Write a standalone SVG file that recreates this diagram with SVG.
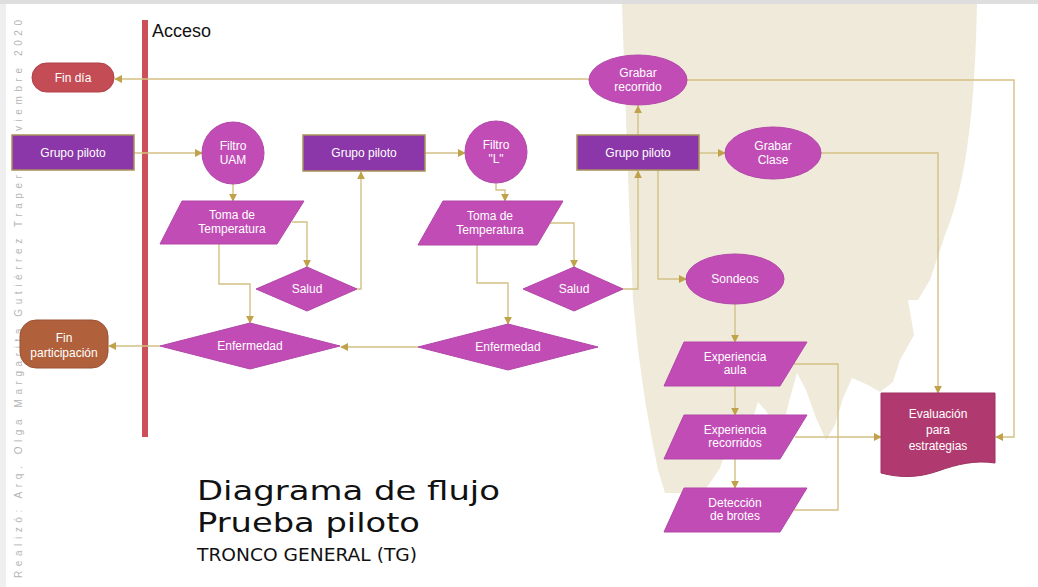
<svg xmlns="http://www.w3.org/2000/svg" width="1038" height="587" viewBox="0 0 1038 587">
<defs>
<marker id="arr" viewBox="0 0 10 10" refX="9" refY="5" markerWidth="8" markerHeight="8" markerUnits="userSpaceOnUse" orient="auto">
<path d="M0,0 L10,5 L0,10 Z" fill="#bfa24a"/>
</marker>
</defs>
<style>
.t{font-family:"Liberation Sans",Arial,sans-serif;fill:#fff;font-size:12px;text-anchor:middle}
.rect{fill:#8b36a9;stroke:#a8915a;stroke-width:1.5}
.mag{fill:#c24cb6;stroke:#b247a8;stroke-width:1}
.c{fill:none;stroke:#d3c185;stroke-width:1.4}
.ttl{font-family:"DejaVu Sans","Liberation Sans",sans-serif;fill:#111}
</style>
<rect x="0" y="0" width="1038" height="587" fill="#fff"/>
<rect x="0" y="0" width="1038" height="4" fill="#dedede"/>
<rect x="0" y="4" width="6" height="583" fill="#efefef"/>
<path d="M622,4 L977,4 C975,100 968,180 945,235 L930,280 L918,300 L908,300 L914,335 L900,360 L893,382 L880,392 L868,385 L852,378 L843,398 L835,425 L826,440 L816,418 L806,390 L797,373 L790,398 L782,430 L774,436 L767,412 L758,402 L750,428 L742,450 L728,445 L720,468 L712,480 L705,490 L690,493 L665,493 L658,470 L652,440 L645,400 L638,350 L633,300 L630,230 L626,120 Z" fill="#f0eada"/>
<text transform="translate(22,578) rotate(-90)" font-family="'Liberation Sans',Arial,sans-serif" font-size="10" fill="#b5b5b5" textLength="558" lengthAdjust="spacing">Realizó: Arq. Olga Margarita Gutiérrez Trapero Noviembre 2020</text>
<rect id="acceso-bar" x="142" y="20" width="6" height="417" fill="#cc4f5a"/>
<text x="152" y="37" font-family="'Liberation Sans',Arial,sans-serif" font-size="18" fill="#111">Acceso</text>
<g id="connectors">
<path class="c" d="M589,79 L115,79" marker-end="url(#arr)"/>
<path class="c" d="M134,153 L202,153" marker-end="url(#arr)"/>
<path class="c" d="M233,184 L233,201" marker-end="url(#arr)"/>
<path class="c" d="M292,222 L307,222 L307,267" marker-end="url(#arr)"/>
<path class="c" d="M357,289 L361,289 L361,172" marker-end="url(#arr)"/>
<path class="c" d="M219,244 L219,284 L250,284 L250,323" marker-end="url(#arr)"/>
<path class="c" d="M160,346 L109,346" marker-end="url(#arr)"/>
<path class="c" d="M425,153 L465,153" marker-end="url(#arr)"/>
<path class="c" d="M496,183 L496,190 L505,190 L505,201" marker-end="url(#arr)"/>
<path class="c" d="M550,223 L574,223 L574,267" marker-end="url(#arr)"/>
<path class="c" d="M623,289 L638,289 L638,171" marker-end="url(#arr)"/>
<path class="c" d="M477,245 L477,283 L508,283 L508,324" marker-end="url(#arr)"/>
<path class="c" d="M418,347 L341,347" marker-end="url(#arr)"/>
<path class="c" d="M638,135 L638,106" marker-end="url(#arr)"/>
<path class="c" d="M687,80 L1014,80 L1014,437 L996,437" marker-end="url(#arr)"/>
<path class="c" d="M699,153 L725,153" marker-end="url(#arr)"/>
<path class="c" d="M821,153 L938,153 L938,393" marker-end="url(#arr)"/>
<path class="c" d="M658,170 L658,279 L686,279" marker-end="url(#arr)"/>
<path class="c" d="M735,304 L735,342" marker-end="url(#arr)"/>
<path class="c" d="M735,386 L735,415" marker-end="url(#arr)"/>
<path class="c" d="M735,459 L735,488" marker-end="url(#arr)"/>
<path class="c" d="M795,437 L881,437" marker-end="url(#arr)"/>
<path class="c" d="M794,364 L838,364 L838,510 L794,510"/>
</g>
<g id="fin-dia">
<rect x="32" y="63" width="82" height="29" rx="14.5" fill="#c44d55" stroke="#b04048"/>
<text class="t" x="73" y="82" font-size="13.5">Fin día</text>
</g>
<g id="grupo-piloto-1">
<rect class="rect" x="12" y="135" width="122" height="35"/>
<text class="t" x="73" y="157">Grupo piloto</text>
</g>
<g id="filtro-uam">
<circle class="mag" cx="233" cy="153" r="31"/>
<text class="t" x="233" y="150">Filtro</text>
<text class="t" x="233" y="164">UAM</text>
</g>
<g id="toma-1">
<polygon class="mag" points="182,201 304,201 277,244 160,244"/>
<text class="t" x="232" y="219">Toma de</text>
<text class="t" x="232" y="233">Temperatura</text>
</g>
<g id="salud-1">
<polygon class="mag" points="256,289 307,267 357,289 307,311"/>
<text class="t" x="307" y="293">Salud</text>
</g>
<g id="enfermedad-1">
<polygon class="mag" points="160,346 250,323 340,346 250,369"/>
<text class="t" x="250" y="350">Enfermedad</text>
</g>
<g id="fin-participacion">
<rect x="20" y="320" width="88" height="48" rx="16" fill="#b0603a" stroke="#9a5232"/>
<text class="t" x="64" y="342" font-size="13">Fin</text>
<text class="t" x="64" y="357" font-size="10">participación</text>
</g>
<g id="grupo-piloto-2">
<rect class="rect" x="303" y="135" width="122" height="36"/>
<text class="t" x="364" y="157">Grupo piloto</text>
</g>
<g id="filtro-l">
<circle class="mag" cx="496" cy="152" r="31"/>
<text class="t" x="496" y="149">Filtro</text>
<text class="t" x="496" y="163">"L"</text>
</g>
<g id="toma-2">
<polygon class="mag" points="443,201 563,201 537,245 418,245"/>
<text class="t" x="490" y="220">Toma de</text>
<text class="t" x="490" y="234">Temperatura</text>
</g>
<g id="salud-2">
<polygon class="mag" points="523,289 574,267 623,289 574,311"/>
<text class="t" x="574" y="293">Salud</text>
</g>
<g id="enfermedad-2">
<polygon class="mag" points="418,347 508,324 598,347 508,370"/>
<text class="t" x="508" y="351">Enfermedad</text>
</g>
<g id="grupo-piloto-3">
<rect class="rect" x="577" y="135" width="122" height="35"/>
<text class="t" x="638" y="157">Grupo piloto</text>
</g>
<g id="grabar-recorrido">
<ellipse class="mag" cx="638" cy="80" rx="49" ry="25"/>
<text class="t" x="638" y="77">Grabar</text>
<text class="t" x="638" y="91">recorrido</text>
</g>
<g id="grabar-clase">
<ellipse class="mag" cx="773" cy="153" rx="48" ry="26"/>
<text class="t" x="773" y="150">Grabar</text>
<text class="t" x="773" y="164">Clase</text>
</g>
<g id="sondeos">
<ellipse class="mag" cx="735" cy="279" rx="49" ry="25"/>
<text class="t" x="735" y="283">Sondeos</text>
</g>
<g id="experiencia-aula">
<polygon class="mag" points="684,342 807,342 780,386 664,386"/>
<text class="t" x="735" y="361">Experiencia</text>
<text class="t" x="735" y="374">aula</text>
</g>
<g id="experiencia-recorridos">
<polygon class="mag" points="684,415 807,415 780,459 664,459"/>
<text class="t" x="735" y="434">Experiencia</text>
<text class="t" x="735" y="447">recorridos</text>
</g>
<g id="deteccion">
<polygon class="mag" points="684,488 807,488 780,532 664,532"/>
<text class="t" x="735" y="507">Detección</text>
<text class="t" x="735" y="520">de brotes</text>
</g>
<g id="evaluacion">
<path d="M881,393 L995,393 L995,463 C975,460 958,464 938,471 C918,478 900,478 881,473 Z" fill="#b03a70" stroke="#9c3262"/>
<text class="t" x="938" y="418" font-size="13.5">Evaluación</text>
<text class="t" x="938" y="434" font-size="13.5">para</text>
<text class="t" x="938" y="450" font-size="13.5">estrategias</text>
</g>
<g id="title">
<text class="ttl" x="197" y="500" font-size="27" textLength="303" lengthAdjust="spacingAndGlyphs">Diagrama de flujo</text>
<text class="ttl" x="197" y="532" font-size="27" textLength="223" lengthAdjust="spacingAndGlyphs">Prueba piloto</text>
<text class="ttl" x="197" y="561" font-size="17" textLength="220" lengthAdjust="spacingAndGlyphs">TRONCO GENERAL (TG)</text>
</g>
</svg>
